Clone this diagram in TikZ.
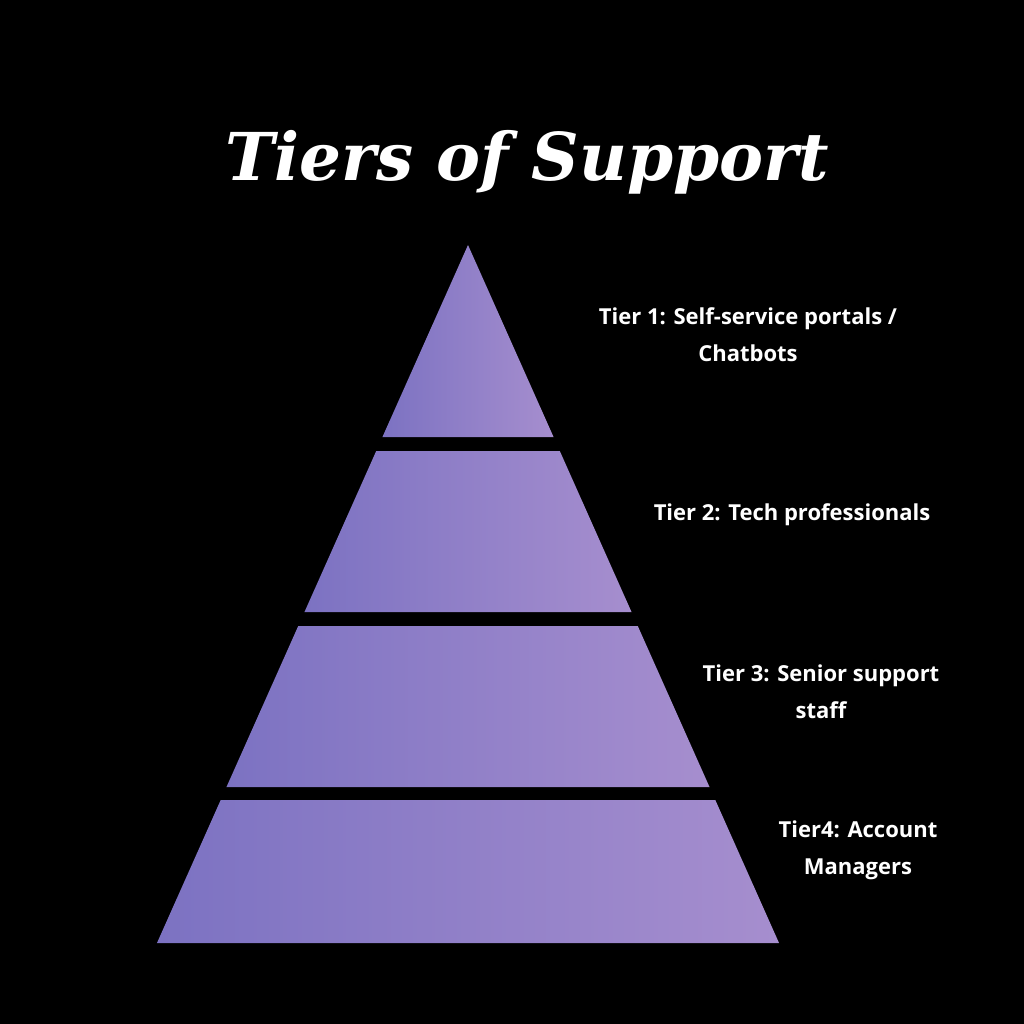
\documentclass[tikz,border=0pt]{standalone}
\usepackage{fontspec}
\setmainfont{Open Sans}
\newfontfamily\titlefont{DejaVu Serif}
\tikzset{
    x=1pt,
    y=-1pt,
    band/.style = {
        left color=tierlo,
        right color=tierhi,
        draw=none
    },
    label/.style = {
        text=white,
        font=\fontsize{22}{37}\selectfont\bfseries,
        align=center
    },
}
\definecolor{tierlo}{RGB}{124,114,194}
\definecolor{tierhi}{RGB}{166,142,206}
\newcommand{\lx}[1]{468-0.4456*(#1-245)}
\newcommand{\rx}[1]{468+0.4456*(#1-245)}
\begin{document}
\begin{tikzpicture}
    \fill[black] (0,0) rectangle (1024,1024);
    \useasboundingbox (0,0) rectangle (1024,1024);

    \node[text=white, font=\titlefont\fontsize{66}{70}\selectfont\bfseries\itshape]
        (title) at (527,162) {Tiers of Support};

    % pyramid bands
    \shade[band] (468,245) -- ({\rx{437}},437) -- ({\lx{437}},437) -- cycle;
    \shade[band] ({\lx{451}},451) -- ({\rx{451}},451) -- ({\rx{612}},612) -- ({\lx{612}},612) -- cycle;
    \shade[band] ({\lx{626}},626) -- ({\rx{626}},626) -- ({\rx{787}},787) -- ({\lx{787}},787) -- cycle;
    \shade[band] ({\lx{800}},800) -- ({\rx{800}},800) -- ({\rx{943}},943) -- ({\lx{943}},943) -- cycle;

    \node[label] (tierone) at (748,335) {Tier 1: Self-service portals /\\Chatbots};
    \node[label] (tiertwo) at (792,515) {Tier 2: Tech professionals};
    \node[label] (tierthree) at (821,692) {Tier 3: Senior support\\staff};
    \node[label] (tierfour) at (858,850) {Tier4: Account\\Managers};
\end{tikzpicture}
\end{document}
